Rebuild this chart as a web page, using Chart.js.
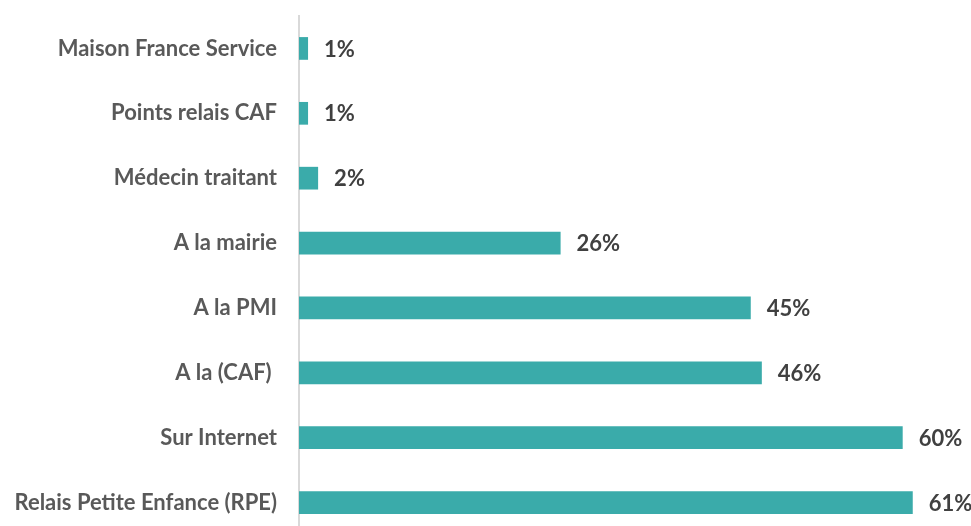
<!DOCTYPE html>
<html lang="fr">

<head>
  <meta charset="UTF-8" />
  <title>Lieux d'information</title>
  <script src="https://cdn.jsdelivr.net/npm/chart.js@4.4.1/dist/chart.umd.min.js"></script>
  <style>
    html, body { margin: 0; padding: 0; background: #fff; overflow: hidden; }
    canvas { display: block; }
  </style>
</head>

<body>
  <canvas id="myChart" width="971" height="535"></canvas>

  <script>
    // categories, top to bottom
    const categories = [
      'Maison France Service',
      'Points relais CAF',
      'Médecin traitant',
      'A la mairie',
      'A la PMI',
      'A la (CAF) ',
      'Sur Internet',
      'Relais Petite Enfance (RPE)'
    ];
    // share of answers (%)
    const values = [0.9, 0.9, 1.9, 26, 44.9, 46, 60, 61];
    const valueLabels = ['1%', '1%', '2%', '26%', '45%', '46%', '60%', '61%'];

    const FONT = 'Lato, "Open Sans", sans-serif';

    // draws the % next to each bar
    const barValues = {
      id: 'barValues',
      afterDatasetsDraw(chart) {
        const ctx = chart.ctx;
        const meta = chart.getDatasetMeta(0);
        ctx.save();
        ctx.font = 'bold 22px ' + FONT;
        ctx.fillStyle = '#404040';
        ctx.textAlign = 'left';
        ctx.textBaseline = 'middle';
        meta.data.forEach((bar, i) => {
          ctx.fillText(valueLabels[i], bar.x + 16, bar.y + 1);
        });
        ctx.restore();
      }
    };

    const ctx = document.getElementById('myChart').getContext('2d');
    new Chart(ctx, {
      type: 'bar',
      data: {
        labels: categories,
        datasets: [{
          data: values,
          backgroundColor: '#3AABAA',
          borderWidth: 0,
          barPercentage: 0.35,
          categoryPercentage: 1
        }]
      },
      options: {
        indexAxis: 'y',
        responsive: false,
        animation: false,
        layout: { padding: { top: 16, right: 18, bottom: 0, left: 0 } },
        plugins: {
          legend: { display: false },
          tooltip: { enabled: false }
        },
        scales: {
          x: {
            display: false,
            min: 0,
            max: 65
          },
          y: {
            afterFit: (scale) => {
              scale.width = 299;
              scale.paddingTop = 0;
              scale.paddingBottom = 0;
            },
            grid: { display: false, drawTicks: false },
            border: { display: true, color: '#D9D9D9', width: 2 },
            ticks: {
              padding: 22,
              color: '#595959',
              font: { family: FONT, size: 22, weight: 'bold' }
            }
          }
        }
      },
      plugins: [barValues]
    });
  </script>
</body>

</html>
